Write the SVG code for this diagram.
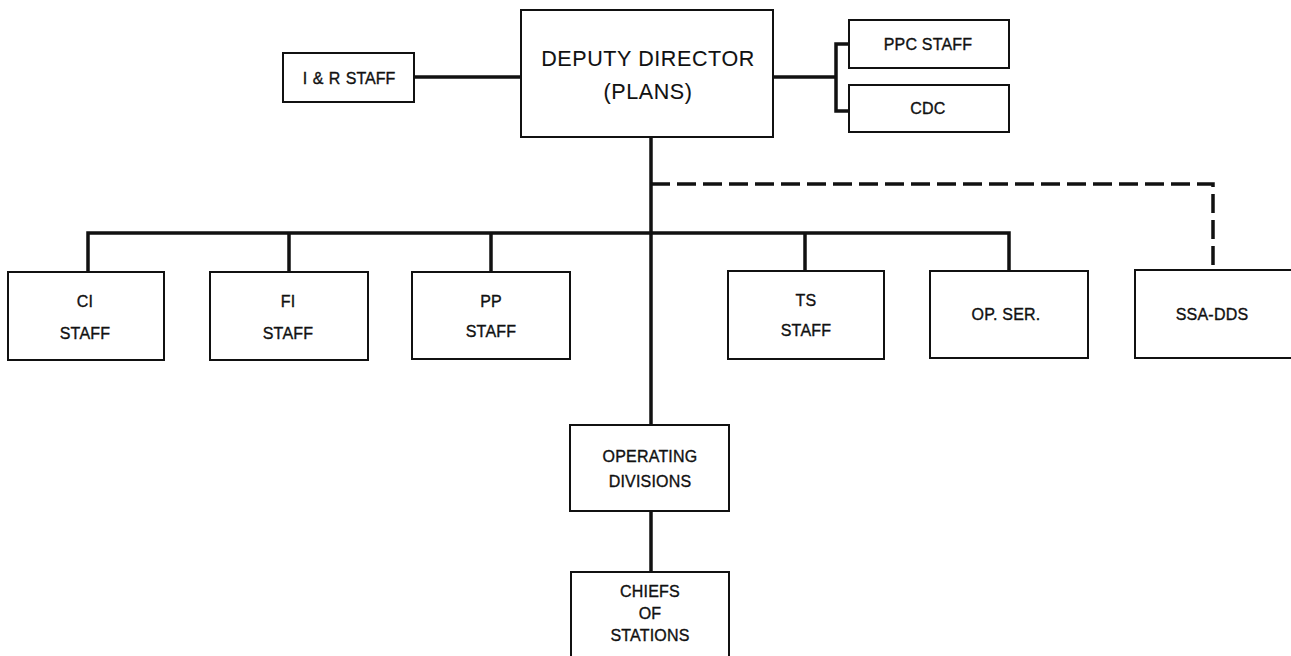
<svg xmlns="http://www.w3.org/2000/svg" width="1291" height="656" viewBox="0 0 1291 656">
<style>
.box{fill:#fff;stroke:#111;stroke-width:2}
.t{font-family:"Liberation Sans",Arial,sans-serif;font-size:16px;fill:#111;stroke:#111;stroke-width:0.35;text-anchor:middle;dominant-baseline:central;letter-spacing:0.2px}
.sm{letter-spacing:0;word-spacing:1px}
.big{font-size:21.5px;letter-spacing:0.6px;stroke-width:0.1}
.c{fill:none;stroke:#111;stroke-width:3.5}
.d{fill:none;stroke:#111;stroke-width:3.5;stroke-dasharray:19 7}
</style>
<rect width="1291" height="656" fill="#fff"/>
<g id="connectors">
<path class="c" d="M414 77H521"/>
<path class="c" d="M773 77H836"/>
<path class="c" d="M849 44H836V111H849"/>
<path class="c" d="M651 137V425"/>
<path class="c" d="M651 511V572"/>
<path class="c" d="M88 271V233H1009V271"/>
<path class="c" d="M289 233V271"/>
<path class="c" d="M491 233V271"/>
<path class="c" d="M805 233V271"/>
<path class="d" d="M651 184H1213V270"/>
</g>
<g id="ir"><rect class="box" x="283" y="53" width="131" height="49"/><text class="t sm" x="349" y="78">I &amp; R STAFF</text></g>
<g id="dd"><rect class="box" x="521" y="10" width="252" height="127"/><text class="t big" x="648" y="59">DEPUTY DIRECTOR</text><text class="t big" x="648" y="92">(PLANS)</text></g>
<g id="ppc"><rect class="box" x="849" y="20" width="160" height="48"/><text class="t" x="928" y="44">PPC STAFF</text></g>
<g id="cdc"><rect class="box" x="849" y="85" width="160" height="47"/><text class="t" x="928" y="108">CDC</text></g>
<g id="ci"><rect class="box" x="8" y="272" width="156" height="88"/><text class="t" x="85" y="301">CI</text><text class="t" x="85" y="333">STAFF</text></g>
<g id="fi"><rect class="box" x="210" y="272" width="158" height="88"/><text class="t" x="288" y="301">FI</text><text class="t" x="288" y="333">STAFF</text></g>
<g id="pp"><rect class="box" x="412" y="272" width="158" height="87"/><text class="t" x="491" y="301">PP</text><text class="t" x="491" y="331">STAFF</text></g>
<g id="ts"><rect class="box" x="728" y="271" width="156" height="88"/><text class="t" x="806" y="300">TS</text><text class="t" x="806" y="330">STAFF</text></g>
<g id="opser"><rect class="box" x="930" y="271" width="158" height="87"/><text class="t" x="1006" y="314">OP.  SER.</text></g>
<g id="ssa"><rect class="box" x="1135" y="270" width="160" height="88"/><text class="t" x="1212" y="314">SSA-DDS</text></g>
<g id="od"><rect class="box" x="570" y="425" width="159" height="86"/><text class="t" x="650" y="456">OPERATING</text><text class="t" x="650" y="481">DIVISIONS</text></g>
<g id="cos"><rect class="box" x="571" y="572" width="158" height="90"/><text class="t" x="650" y="591">CHIEFS</text><text class="t" x="650" y="613">OF</text><text class="t" x="650" y="635">STATIONS</text></g>
</svg>
